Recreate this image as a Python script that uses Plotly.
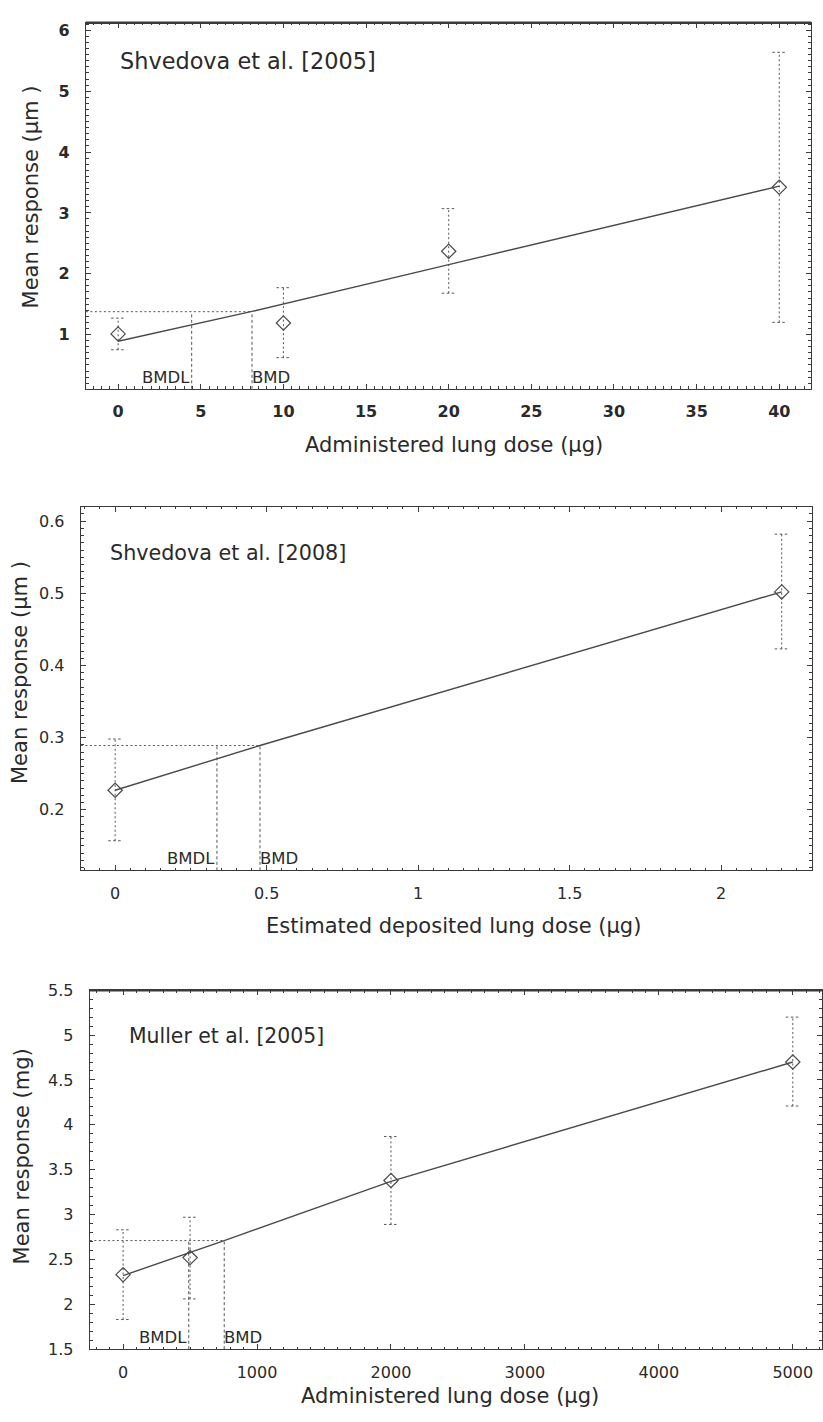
import plotly.graph_objects as go

# ---------------- data ----------------
# Panel 1: Shvedova et al. [2005]
p1_dose = [0, 10, 20, 40]
p1_mean = [1.01, 1.19, 2.37, 3.42]
p1_lo = [0.75, 0.62, 1.68, 1.20]
p1_hi = [1.27, 1.77, 3.07, 5.64]
p1_fit_x = [0, 8.1, 20, 40]
p1_fit_y = [0.89, 1.38, 2.15, 3.44]
p1_bmd = 8.1
p1_bmdl = 4.45
p1_bmr = 1.376
p1_xticks = [0, 5, 10, 15, 20, 25, 30, 35, 40]
p1_yticks = [1, 2, 3, 4, 5, 6]

# Panel 2: Shvedova et al. [2008]
p2_dose = [0, 2.2]
p2_mean = [0.227, 0.502]
p2_lo = [0.157, 0.423]
p2_hi = [0.298, 0.582]
p2_fit_x = [0, 0.478, 2.2]
p2_fit_y = [0.227, 0.289, 0.502]
p2_bmd = 0.478
p2_bmdl = 0.336
p2_bmr = 0.289
p2_xticks = [0, 0.5, 1, 1.5, 2]
p2_yticks = [0.2, 0.3, 0.4, 0.5, 0.6]

# Panel 3: Muller et al. [2005]
p3_dose = [0, 500, 2000, 5000]
p3_mean = [2.33, 2.52, 3.38, 4.70]
p3_lo = [1.83, 2.06, 2.89, 4.21]
p3_hi = [2.83, 2.97, 3.87, 5.20]
p3_fit_x = [0, 755, 2000, 5000]
p3_fit_y = [2.32, 2.71, 3.37, 4.70]
p3_bmd = 755
p3_bmdl = 490
p3_bmr = 2.71
p3_xticks = [0, 1000, 2000, 3000, 4000, 5000]
p3_yticks = [1.5, 2, 2.5, 3, 3.5, 4, 4.5, 5, 5.5]

titles = ["Shvedova et al. [2005]", "Shvedova et al. [2008]", "Muller et al. [2005]"]
xtitles = ["Administered lung dose (µg)", "Estimated deposited lung dose (µg)",
           "Administered lung dose (µg)"]
ytitles = ["Mean response (µm )", "Mean response (µm )", "Mean response (mg)"]

# ---------------- layout geometry ----------------
W, H = 823, 1422
FONT = "DejaVu Sans, Liberation Sans, Arial, sans-serif"
GRAY = "#555555"
AX = "#3a3a3a"
TXT = "#2a2a2a"

panels = [
    dict(dose=p1_dose, mean=p1_mean, lo=p1_lo, hi=p1_hi, fx=p1_fit_x, fy=p1_fit_y,
         bmd=p1_bmd, bmdl=p1_bmdl, bmr=p1_bmr, xt=p1_xticks, yt=p1_yticks,
         px=(86, 812), py=(14, 385), xr=[-1.95, 41.92], yr=[0.107, 6.125],
         xminor=0.5, yminor=0.1, bold=True, thicktop=True,
         title_pos=(118, 53), title_size=22.4,
         ytitle_pos=(31, 190), xtitle_pos=(455, 442)),
    dict(dose=p2_dose, mean=p2_mean, lo=p2_lo, hi=p2_hi, fx=p2_fit_x, fy=p2_fit_y,
         bmd=p2_bmd, bmdl=p2_bmdl, bmr=p2_bmr, xt=p2_xticks, yt=p2_yticks,
         px=(81, 813), py=(504.5, 873), xr=[-0.113, 2.3], yr=[0.116, 0.620],
         xminor=0.05, yminor=0.01, bold=False, thicktop=False,
         title_pos=(108, 551), title_size=20.7,
         ytitle_pos=(20, 672), xtitle_pos=(454, 929)),
    dict(dose=p3_dose, mean=p3_mean, lo=p3_lo, hi=p3_hi, fx=p3_fit_x, fy=p3_fit_y,
         bmd=p3_bmd, bmdl=p3_bmdl, bmr=p3_bmr, xt=p3_xticks, yt=p3_yticks,
         px=(90, 823), py=(994.5, 1358.3), xr=[-248, 5218], yr=[1.5, 5.5],
         xminor=100, yminor=0.1, bold=False, thicktop=True,
         title_pos=(127, 1041), title_size=20.4,
         ytitle_pos=(22, 1163), xtitle_pos=(451, 1406)),
]

fig = go.Figure()
annotations = []
shapes = []

for i, p in enumerate(panels, start=1):
    xa = "x" if i == 1 else f"x{i}"
    ya = "y" if i == 1 else f"y{i}"
    xkey = "xaxis" if i == 1 else f"xaxis{i}"
    ykey = "yaxis" if i == 1 else f"yaxis{i}"

    xdom = [p["px"][0] / W, p["px"][1] / W]
    ydom = [1 - p["py"][1] / H, 1 - p["py"][0] / H]
    # half cap width in data units (7 px)
    cap = 7 * (p["xr"][1] - p["xr"][0]) / (p["px"][1] - p["px"][0])

    # error bars (dotted) built from data
    ex, ey = [], []
    cx, cy = [], []
    for d, lo, hi in zip(p["dose"], p["lo"], p["hi"]):
        ex += [d, d, None]
        ey += [lo, hi, None]
        for v in (lo, hi):
            cx += [d - cap, d + cap, None]
            cy += [v, v, None]
    fig.add_trace(go.Scatter(x=ex, y=ey, mode="lines", xaxis=xa, yaxis=ya,
                             line=dict(color=GRAY, width=1, dash="2px,2.5px"),
                             showlegend=False, hoverinfo="skip"))
    fig.add_trace(go.Scatter(x=cx, y=cy, mode="lines", xaxis=xa, yaxis=ya,
                             line=dict(color=GRAY, width=1, dash="2.5px,2.5px"),
                             showlegend=False, hoverinfo="skip"))

    # BMR horizontal and BMD / BMDL verticals
    fig.add_trace(go.Scatter(x=[p["xr"][0], p["bmd"]], y=[p["bmr"], p["bmr"]],
                             mode="lines", xaxis=xa, yaxis=ya,
                             line=dict(color=GRAY, width=1, dash="2px,2.5px"),
                             showlegend=False, hoverinfo="skip"))
    fig.add_trace(go.Scatter(x=[p["bmdl"], p["bmdl"], None, p["bmd"], p["bmd"]],
                             y=[p["yr"][0], p["bmr"], None, p["yr"][0], p["bmr"]],
                             mode="lines", xaxis=xa, yaxis=ya,
                             line=dict(color=GRAY, width=1, dash="3px,2.5px"),
                             showlegend=False, hoverinfo="skip"))

    # fitted model
    fig.add_trace(go.Scatter(x=p["fx"], y=p["fy"], mode="lines", xaxis=xa, yaxis=ya,
                             line=dict(color="#4a4a4a", width=1.4),
                             showlegend=False, hoverinfo="skip"))
    # observed means
    fig.add_trace(go.Scatter(x=p["dose"], y=p["mean"], mode="markers", xaxis=xa, yaxis=ya,
                             marker=dict(symbol="diamond-open", size=11,
                                         color="#4a4a4a", line=dict(width=1.2)),
                             showlegend=False))

    tickfont = dict(family=FONT, size=16, color=TXT,
                    weight="bold" if p["bold"] else "normal")
    fig.update_layout({
        xkey: dict(domain=xdom, range=p["xr"], anchor=ya, tickvals=p["xt"],
                   ticktext=[f"{v:g}" for v in p["xt"]],
                   showline=True, linecolor=AX, linewidth=1.3, mirror="allticks",
                   ticks="inside", ticklen=5, tickcolor=AX, tickwidth=1,
                   minor=dict(ticks="inside", ticklen=2.5, dtick=p["xminor"],
                              tick0=0, tickcolor=AX, showgrid=False),
                   showgrid=False, zeroline=False, tickfont=tickfont,
                   ticklabelstandoff=8, fixedrange=True),
        ykey: dict(domain=ydom, range=p["yr"], anchor=xa, tickvals=p["yt"],
                   ticktext=[f"{v:g}" for v in p["yt"]],
                   showline=True, linecolor=AX, linewidth=1.3, mirror="allticks",
                   ticks="inside", ticklen=5, tickcolor=AX, tickwidth=1,
                   minor=dict(ticks="inside", ticklen=2.5, dtick=p["yminor"],
                              tick0=0, tickcolor=AX, showgrid=False),
                   showgrid=False, zeroline=False, tickfont=tickfont,
                   ticklabelstandoff=12, fixedrange=True),
    })

    if p["thicktop"]:
        shapes.append(dict(type="line", xref=f"{xa} domain", yref=f"{ya} domain",
                           x0=0, x1=1, y0=1, y1=1, line=dict(color=AX, width=2.5)))

    # study label
    annotations.append(dict(text=titles[i - 1], xref="paper", yref="paper",
                            x=p["title_pos"][0] / W, y=1 - p["title_pos"][1] / H,
                            xanchor="left", yanchor="middle", showarrow=False,
                            font=dict(family=FONT, size=p["title_size"], color=TXT)))
    # axis titles
    annotations.append(dict(text=ytitles[i - 1], xref="paper", yref="paper",
                            x=p["ytitle_pos"][0] / W, y=1 - p["ytitle_pos"][1] / H,
                            xanchor="center", yanchor="middle", textangle=-90,
                            showarrow=False,
                            font=dict(family=FONT, size=21, color=TXT)))
    annotations.append(dict(text=xtitles[i - 1], xref="paper", yref="paper",
                            x=p["xtitle_pos"][0] / W, y=1 - p["xtitle_pos"][1] / H,
                            xanchor="center", yanchor="middle", showarrow=False,
                            font=dict(family=FONT, size=21, color=TXT)))
    # BMDL / BMD labels
    annotations.append(dict(text="BMDL", xref=xa, yref=f"{ya} domain",
                            x=p["bmdl"], y=0, xanchor="right", yanchor="bottom",
                            yshift=0, showarrow=False,
                            font=dict(family=FONT, size=16.5, color=TXT)))
    annotations.append(dict(text="BMD", xref=xa, yref=f"{ya} domain",
                            x=p["bmd"], y=0, xanchor="left", yanchor="bottom",
                            yshift=0, xshift=-2, showarrow=False,
                            font=dict(family=FONT, size=16.5, color=TXT)))

fig.update_layout(width=W, height=H, autosize=False,
                  margin=dict(l=0, r=0, t=0, b=0, pad=0),
                  paper_bgcolor="white", plot_bgcolor="white",
                  annotations=annotations, shapes=shapes,
                  font=dict(family=FONT))

fig.write_html("out.html", config=dict(displayModeBar=False),
               post_script="document.body.style.margin='0';document.body.style.padding='0';")
